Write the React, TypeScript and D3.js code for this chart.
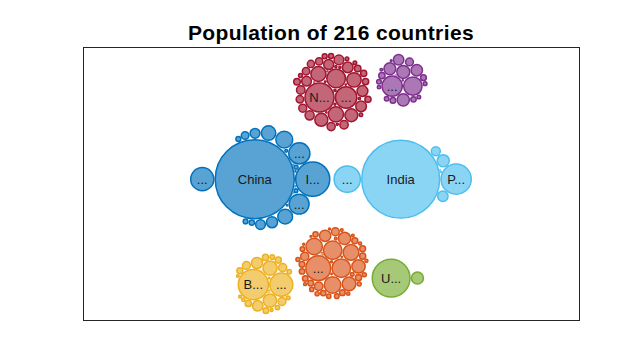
import React, { useMemo } from "react";
import * as d3 from "d3";

// Region groups (World Bank regions) and their colours
const regionNames = [
  "East Asia & Pacific",
  "Europe & Central Asia",
  "Latin America & Caribbean",
  "Middle East & North Africa",
  "North America",
  "South Asia",
  "Sub-Saharan Africa",
];
const regionColors = ["#0072BD", "#D95319", "#EDB120", "#7E2F8E", "#77AC30", "#4DBEEE", "#A2142F"];

// Population in millions
const eapNames = ["China", "Indonesia", "Japan", "Philippines", "Vietnam", "Thailand", "Myanmar", "Korea, Rep.", "Malaysia", "Korea, Dem. People's Rep.", "Australia", "Cambodia", "Papua New Guinea", "Hong Kong SAR, China", "Lao PDR", "Singapore", "New Zealand", "Mongolia", "Timor-Leste", "Fiji", "Solomon Islands", "Macao SAR, China", "Brunei Darussalam", "Vanuatu", "French Polynesia", "New Caledonia", "Samoa", "Guam", "Kiribati", "Micronesia, Fed. Sts.", "Tonga", "Marshall Islands", "Northern Mariana Islands", "American Samoa", "Palau", "Nauru", "Tuvalu"];
const eapPop = [1392.73, 267.66, 126.53, 106.65, 95.54, 69.43, 53.71, 51.64, 31.53, 25.55, 24.99, 16.25, 8.61, 7.45, 7.06, 5.64, 4.89, 3.17, 1.27, 0.88, 0.65, 0.63, 0.43, 0.29, 0.28, 0.28, 0.2, 0.17, 0.12, 0.11, 0.1, 0.058, 0.057, 0.055, 0.018, 0.013, 0.012];

const ecaNames = ["Russian Federation", "Germany", "Turkey", "France", "United Kingdom", "Italy", "Spain", "Ukraine", "Poland", "Uzbekistan", "Romania", "Kazakhstan", "Netherlands", "Belgium", "Greece", "Czech Republic", "Portugal", "Sweden", "Azerbaijan", "Hungary", "Belarus", "Tajikistan", "Austria", "Switzerland", "Serbia", "Bulgaria", "Kyrgyz Republic", "Turkmenistan", "Denmark", "Finland", "Slovak Republic", "Norway", "Ireland", "Croatia", "Georgia", "Moldova", "Bosnia and Herzegovina", "Armenia", "Albania", "Lithuania", "North Macedonia", "Slovenia", "Latvia", "Kosovo", "Estonia", "Cyprus", "Montenegro", "Luxembourg", "Iceland", "Channel Islands", "Isle of Man", "Andorra", "Greenland", "Faroe Islands", "Monaco", "Liechtenstein", "San Marino", "Gibraltar"];
const ecaPop = [144.48, 82.93, 82.32, 66.99, 66.46, 60.43, 46.72, 44.62, 37.97, 32.96, 19.47, 18.28, 17.23, 11.42, 10.73, 10.63, 10.28, 10.18, 9.94, 9.77, 9.49, 9.1, 8.85, 8.52, 6.98, 7.02, 6.32, 5.85, 5.8, 5.52, 5.45, 5.31, 4.85, 4.09, 3.73, 3.55, 3.32, 2.95, 2.87, 2.8, 2.08, 2.07, 1.93, 1.85, 1.32, 1.19, 0.62, 0.61, 0.35, 0.17, 0.084, 0.077, 0.056, 0.049, 0.039, 0.038, 0.034, 0.034];

const lacNames = ["Brazil", "Mexico", "Colombia", "Argentina", "Peru", "Venezuela, RB", "Chile", "Guatemala", "Ecuador", "Bolivia", "Cuba", "Haiti", "Dominican Republic", "Honduras", "Paraguay", "Nicaragua", "El Salvador", "Costa Rica", "Panama", "Uruguay", "Puerto Rico", "Jamaica", "Trinidad and Tobago", "Guyana", "Suriname", "Bahamas, The", "Belize", "Barbados", "St. Lucia", "Curacao", "St. Vincent and the Grenadines", "Grenada", "Virgin Islands (U.S.)", "Aruba", "Antigua and Barbuda", "Dominica", "Cayman Islands", "St. Kitts and Nevis", "Sint Maarten (Dutch part)", "Turks and Caicos Islands", "St. Martin (French part)", "British Virgin Islands"];
const lacPop = [209.47, 126.19, 49.65, 44.49, 31.99, 28.87, 18.73, 17.25, 17.08, 11.35, 11.34, 11.12, 10.63, 9.59, 6.96, 6.47, 6.42, 5.0, 4.18, 3.45, 3.2, 2.93, 1.39, 0.78, 0.58, 0.39, 0.38, 0.29, 0.18, 0.16, 0.11, 0.11, 0.107, 0.106, 0.096, 0.072, 0.064, 0.052, 0.041, 0.038, 0.038, 0.03];

const menaNames = ["Egypt, Arab Rep.", "Iran, Islamic Rep.", "Algeria", "Iraq", "Morocco", "Saudi Arabia", "Yemen, Rep.", "Syrian Arab Republic", "Tunisia", "Jordan", "United Arab Emirates", "Israel", "Lebanon", "Libya", "Oman", "West Bank and Gaza", "Kuwait", "Qatar", "Bahrain", "Djibouti", "Malta"];
const menaPop = [98.42, 81.8, 42.23, 38.43, 36.03, 33.7, 28.5, 16.91, 11.57, 9.96, 9.63, 8.88, 6.85, 6.68, 4.83, 4.57, 4.14, 2.78, 1.57, 0.96, 0.48];

const naNames = ["United States", "Canada", "Bermuda"];
const naPop = [327.17, 37.06, 0.064];

const saNames = ["India", "Pakistan", "Bangladesh", "Afghanistan", "Nepal", "Sri Lanka", "Bhutan", "Maldives"];
const saPop = [1352.62, 212.23, 161.36, 37.17, 28.09, 21.67, 0.75, 0.52];

const ssaNames = ["Nigeria", "Ethiopia", "Congo, Dem. Rep.", "South Africa", "Tanzania", "Kenya", "Uganda", "Sudan", "Angola", "Ghana", "Mozambique", "Madagascar", "Cameroon", "Cote d'Ivoire", "Niger", "Burkina Faso", "Mali", "Malawi", "Zambia", "Senegal", "Chad", "Somalia", "Zimbabwe", "Guinea", "Rwanda", "Benin", "Burundi", "South Sudan", "Togo", "Sierra Leone", "Congo, Rep.", "Liberia", "Central African Republic", "Mauritania", "Namibia", "Gambia, The", "Botswana", "Gabon", "Lesotho", "Guinea-Bissau", "Equatorial Guinea", "Mauritius", "Eswatini", "Comoros", "Cabo Verde", "Sao Tome and Principe", "Seychelles"];
const ssaPop = [195.87, 109.22, 84.07, 57.78, 56.32, 51.39, 42.72, 41.8, 30.81, 29.77, 29.5, 26.26, 25.22, 25.07, 22.44, 19.75, 19.08, 18.14, 17.35, 15.85, 15.48, 15.01, 14.44, 12.41, 12.3, 11.49, 11.18, 10.98, 7.89, 7.65, 5.24, 4.82, 4.67, 4.4, 2.45, 2.28, 2.25, 2.12, 2.11, 1.87, 1.31, 1.27, 1.14, 0.83, 0.54, 0.21, 0.097];

const groupNames = [eapNames, ecaNames, lacNames, menaNames, naNames, saNames, ssaNames];
const groupPops = [eapPop, ecaPop, lacPop, menaPop, naPop, saPop, ssaPop];

// How the region clouds sit against each other: each cloud touches the listed neighbours
const cloudArrangement: { group: number; touch?: number[]; side?: number }[] = [
  { group: 0 },
  { group: 5, touch: [0] },
  { group: 6, touch: [0, 5], side: -1 },
  { group: 1, touch: [0, 5], side: 1 },
  { group: 2, touch: [0, 1] },
  { group: 3, touch: [6, 5] },
  { group: 4, touch: [1, 5] },
];

const WIDTH = 640;
const HEIGHT = 360;
const AX = { x0: 83, x1: 579, y0: 47, y1: 320 };
const FONT = "'Liberation Sans', Arial, Helvetica, sans-serif";

type Circle = { x: number; y: number; r: number };
type Bubble = Circle & { name: string; pop: number; group: number; r0: number };

// Both centres at which a circle of radius r touches circles A and B
function tangentSpots(A: Circle, B: Circle, r: number): Circle[] {
  const dx = B.x - A.x;
  const dy = B.y - A.y;
  const d = Math.hypot(dx, dy);
  const a = A.r + r;
  const b = B.r + r;
  if (d === 0 || d > a + b || d < Math.abs(a - b)) return [];
  const along = (a * a - b * b + d * d) / (2 * d);
  const h = Math.sqrt(Math.max(0, a * a - along * along));
  const ux = dx / d;
  const uy = dy / d;
  const mx = A.x + along * ux;
  const my = A.y + along * uy;
  return [
    { x: mx - h * uy, y: my + h * ux, r },
    { x: mx + h * uy, y: my - h * ux, r },
  ];
}

// Greedy packing: biggest bubble in the middle, the next one on its right (and, when the
// biggest one dominates, the third on its left), then each bubble goes to the free
// touching spot nearest the cloud's centre of mass.
function packCloud(circles: Circle[]) {
  const n = circles.length;
  if (n === 0) return;
  circles[0].x = 0;
  circles[0].y = 0;
  let start = 1;
  if (n > 1) {
    circles[1].x = circles[0].r + circles[1].r;
    circles[1].y = 0;
    start = 2;
  }
  if (n > 2 && circles[1].r < 0.5 * circles[0].r) {
    circles[2].x = -(circles[0].r + circles[2].r);
    circles[2].y = 0;
    start = 3;
  }
  for (let i = start; i < n; i++) {
    const c = circles[i];
    let sw = 0, sx = 0, sy = 0;
    for (let j = 0; j < i; j++) {
      const w = circles[j].r * circles[j].r;
      sw += w;
      sx += w * circles[j].x;
      sy += w * circles[j].y;
    }
    const gx = sx / sw;
    const gy = sy / sw;
    let best: Circle | null = null;
    let bestScore = Infinity;
    for (let j = 0; j < i; j++) {
      for (let k = 0; k < j; k++) {
        for (const p of tangentSpots(circles[j], circles[k], c.r)) {
          let free = true;
          for (let m = 0; m < i; m++) {
            const o = circles[m];
            if (Math.hypot(p.x - o.x, p.y - o.y) < o.r + c.r - 1e-7) {
              free = false;
              break;
            }
          }
          if (!free) continue;
          const s = Math.hypot(p.x - gx, p.y - gy);
          if (s < bestScore - 1e-6 || (Math.abs(s - bestScore) <= 1e-6 && best && p.y < best.y)) {
            best = p;
            bestScore = s;
          }
        }
      }
    }
    if (best) {
      c.x = best.x;
      c.y = best.y;
    }
  }
}

// Fit a country name into a bubble; long names are cut and end in "..."
function bubbleLabel(name: string, r: number): string | null {
  if (r < 10.1) return null;
  const n = Math.floor((2 * r - 18) / 11);
  if (name.length <= n) return name;
  return name.slice(0, Math.max(0, n)) + "...";
}

export default function App() {
  const bubbles = useMemo(() => {
    const maxPop = d3.max(groupPops.flat()) as number;
    const rScale = d3.scaleSqrt().domain([0, maxPop]).range([0, 40]);
    const bubblePad = 0.4;
    const cloudPad = 3;

    const clouds = groupNames.map((names, gi) => {
      const nodes: Bubble[] = names
        .map((name, i) => {
          const r0 = rScale(groupPops[gi][i]);
          return { name, pop: groupPops[gi][i], group: gi, r0, r: r0 + bubblePad / 2, x: 0, y: 0 };
        })
        .sort((a, b) => b.pop - a.pop);
      packCloud(nodes);
      const enc = d3.packEnclose(nodes) as Circle;
      nodes.forEach((n) => {
        n.x -= enc.x;
        n.y -= enc.y;
      });
      return { nodes, x: 0, y: 0, r: enc.r + cloudPad / 2 };
    });

    // Place the region clouds next to each other
    const placed: number[] = [];
    cloudArrangement.forEach((spec) => {
      const cl = clouds[spec.group];
      if (!spec.touch) {
        cl.x = 0;
        cl.y = 0;
      } else if (spec.touch.length === 1) {
        const A = clouds[spec.touch[0]];
        cl.x = A.x + A.r + cl.r;
        cl.y = A.y;
      } else {
        const A = clouds[spec.touch[0]];
        const B = clouds[spec.touch[1]];
        const others = placed.map((g) => clouds[g]);
        let spots = tangentSpots(A, B, cl.r).filter((p) =>
          others.every((o) => Math.hypot(p.x - o.x, p.y - o.y) >= o.r + cl.r - 1e-6)
        );
        if (spec.side) spots = spots.filter((p) => Math.sign(p.y) === spec.side);
        const p = spots[0] || tangentSpots(A, B, cl.r)[0];
        cl.x = p.x;
        cl.y = p.y;
      }
      placed.push(spec.group);
    });

    const all: Bubble[] = [];
    clouds.forEach((cl) => {
      cl.nodes.forEach((n) => all.push({ ...n, x: cl.x + n.x, y: cl.y + n.y, r: n.r0 }));
    });

    const x0 = d3.min(all, (d) => d.x - d.r) as number;
    const x1 = d3.max(all, (d) => d.x + d.r) as number;
    const y0 = d3.min(all, (d) => d.y - d.r) as number;
    const y1 = d3.max(all, (d) => d.y + d.r) as number;
    const pad = 6;
    const s = Math.min((AX.x1 - AX.x0 - 2 * pad) / (x1 - x0), (AX.y1 - AX.y0 - 2 * pad) / (y1 - y0));
    const cx = (AX.x0 + AX.x1) / 2;
    const cy = (AX.y0 + AX.y1) / 2;
    const mx = (x0 + x1) / 2;
    const my = (y0 + y1) / 2;
    const xs = d3.scaleLinear().domain([mx, mx + 1]).range([cx, cx + s]);
    const ys = d3.scaleLinear().domain([my, my + 1]).range([cy, cy + s]);
    return all.map((d) => ({ ...d, x: xs(d.x), y: ys(d.y), r: d.r * s }));
  }, []);

  const total = groupPops.reduce((acc, p) => acc + p.length, 0);

  return (
    <svg width={WIDTH} height={HEIGHT} style={{ position: "absolute", left: 0, top: 0, background: "#fff" }}>
      <rect x={0} y={0} width={WIDTH} height={HEIGHT} fill="#fff" />
      <text
        x={(AX.x0 + AX.x1) / 2}
        y={39.5}
        textAnchor="middle"
        fontFamily={FONT}
        fontWeight="bold"
        fontSize={21}
        letterSpacing={0.4}
        fill="#000"
      >
        {`Population of ${total} countries`}
      </text>
      <rect x={AX.x0 + 0.5} y={AX.y0 + 0.5} width={AX.x1 - AX.x0} height={AX.y1 - AX.y0} fill="none" stroke="#262626" strokeWidth={1} />
      <g>
        {bubbles.map((b, i) => (
          <circle
            key={i}
            cx={b.x}
            cy={b.y}
            r={Math.max(0, b.r - 0.5)}
            fill={regionColors[b.group]}
            fillOpacity={0.65}
            stroke={regionColors[b.group]}
            strokeWidth={1.5}
          >
            <title>{`${b.name} (${regionNames[b.group]})`}</title>
          </circle>
        ))}
      </g>
      <g fontFamily={FONT} fontSize={13} fill="#1a1a1a" textAnchor="middle">
        {bubbles.map((b, i) => {
          const label = bubbleLabel(b.name, b.r0);
          return label ? (
            <text key={i} x={b.x} y={b.y} dy="0.35em">
              {label}
            </text>
          ) : null;
        })}
      </g>
    </svg>
  );
}
